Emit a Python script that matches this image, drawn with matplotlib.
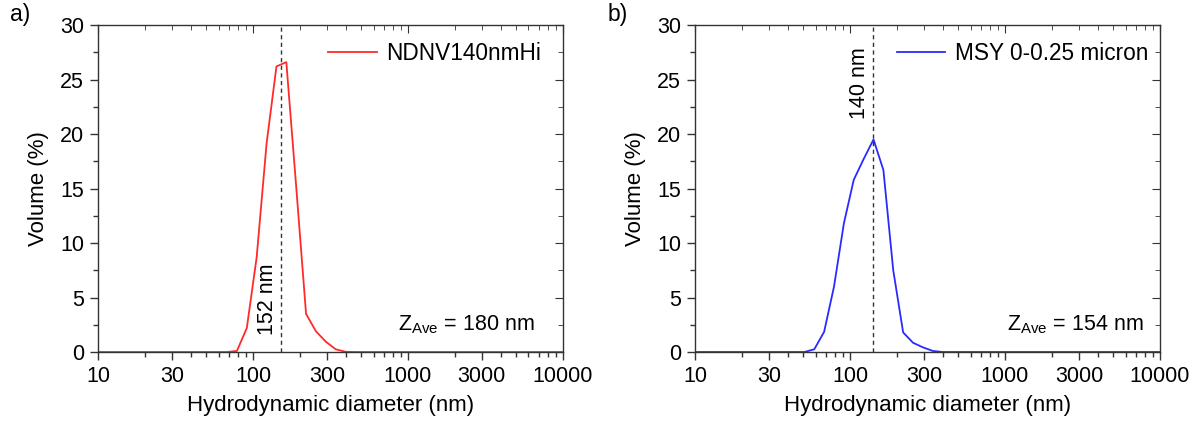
import numpy as np
import matplotlib
matplotlib.use("Agg")
import matplotlib.pyplot as plt
from matplotlib.ticker import FixedLocator, NullFormatter

plt.rcParams['font.family'] = ['Liberation Sans', 'DejaVu Sans']
plt.rcParams['mathtext.fontset'] = 'custom'
plt.rcParams['mathtext.rm'] = 'Liberation Sans'

# size bins (nm) and volume distributions (%)
size_a = [10, 50.75, 58.77, 68.06, 78.82, 91.28, 105.7, 122.4, 141.8, 164.2,
          190.1, 220.2, 255.0, 295.3, 342.0, 396.1, 458.7, 10000]
vol_a = [0, 0, 0, 0, 0.1, 2.2, 8.7, 19.1, 26.2, 26.6,
         15.2, 3.5, 1.9, 0.95, 0.25, 0.02, 0, 0]

size_b = [10, 43.82, 50.75, 58.77, 68.06, 78.82, 91.28, 105.7, 122.4, 141.8,
          164.2, 190.1, 220.2, 255.0, 295.3, 342.0, 396.1, 10000]
vol_b = [0, 0, 0, 0.25, 1.85, 6.0, 11.8, 15.8, 17.7, 19.5,
         16.7, 7.5, 1.8, 0.85, 0.43, 0.1, 0, 0]

peak_a, peak_b = 152, 140
zave_a, zave_b = 180, 154
label_a, label_b = "NDNV140nmHi", "MSY 0-0.25 micron"

xticks = [10, 30, 100, 300, 1000, 3000, 10000]
decades = [10, 100, 1000, 10000]
minor = [m * 10 ** e for e in range(1, 4) for m in range(2, 10)]
yticks = list(range(0, 31, 5))
yminor = list(np.arange(2.5, 30, 5))

fs = 15.5
fig = plt.figure(figsize=(11.92, 4.23), dpi=100)
ax_a = fig.add_axes([0.0822, 0.1678, 0.390, 0.773])
ax_b = fig.add_axes([0.5831, 0.1678, 0.390, 0.773])

panels = [
    (ax_a, size_a, vol_a, "#ff2a2a", peak_a, zave_a, label_a, 0.4946, 0.940, 4.8),
    (ax_b, size_b, vol_b, "#2a2aff", peak_b, zave_b, label_b, 0.434, 0.966, 24.7),
]

for ax, x, y, c, pk, za, lab, leg_x, z_x, pk_y in panels:
    ax.plot(x, y, color=c, lw=1.3, label=lab)
    ax.plot([pk, pk], [0, 30], color="#333333", ls=(0, (3, 2.5)), lw=1.0)
    ax.text(pk * 0.955, pk_y, f"{pk} nm", rotation=90, ha="right", va="center",
            fontsize=fs)
    ax.text(z_x, 0.083, r"$\mathregular{Z_{Ave}}$" + f" = {za} nm",
            transform=ax.transAxes, ha="right", va="center", fontsize=fs)
    ax.set_xscale("log")
    ax.set_xlim(10, 10000)
    ax.set_ylim(0, 30)
    ax.xaxis.set_major_locator(FixedLocator(xticks))
    ax.set_xticklabels([str(t) for t in xticks])
    ax.xaxis.set_minor_locator(FixedLocator(minor))
    ax.xaxis.set_minor_formatter(NullFormatter())
    ax.set_yticks(yticks)
    ax.yaxis.set_minor_locator(FixedLocator(yminor))
    ax.tick_params(which="both", direction="out", top=False, right=False,
                   labelsize=fs, colors="#333333", labelcolor="black", width=1.0)
    ax.tick_params(which="major", length=6, pad=4)
    ax.tick_params(which="minor", length=3.5)

    # mirrored top/right ticks pointing inward
    sec = ax.secondary_xaxis("top")
    sec.xaxis.set_major_locator(FixedLocator(decades))
    sec.xaxis.set_minor_locator(FixedLocator(minor))
    sec.tick_params(which="both", direction="in", labeltop=False, colors="#333333")
    sec.tick_params(which="major", length=6)
    sec.tick_params(which="minor", length=3.5)
    sec.spines["top"].set_visible(False)
    secy = ax.secondary_yaxis("right")
    secy.yaxis.set_major_locator(FixedLocator(yticks))
    secy.yaxis.set_minor_locator(FixedLocator(yminor))
    secy.tick_params(which="both", direction="in", labelright=False, colors="#333333")
    secy.tick_params(which="major", length=6)
    secy.tick_params(which="minor", length=3.5)
    secy.spines["right"].set_visible(False)

    for s in ax.spines.values():
        s.set_color("#333333")
        s.set_linewidth(1.0)
    ax.set_xlabel("Hydrodynamic diameter (nm)", fontsize=fs + 0.5, labelpad=6)
    ax.set_ylabel("Volume (%)", fontsize=fs + 0.5, labelpad=8)
    ax.legend(loc="center left", bbox_to_anchor=(leg_x, 0.914), frameon=False,
              fontsize=fs + 0.8, handlelength=2.15, handletextpad=0.4,
              borderpad=0, borderaxespad=0)

fig.text(0.008, 0.965, "a)", fontsize=fs + 1, ha="left", va="center")
fig.text(0.510, 0.965, "b)", fontsize=fs + 1, ha="left", va="center")

fig.savefig("out.png", dpi=100)
